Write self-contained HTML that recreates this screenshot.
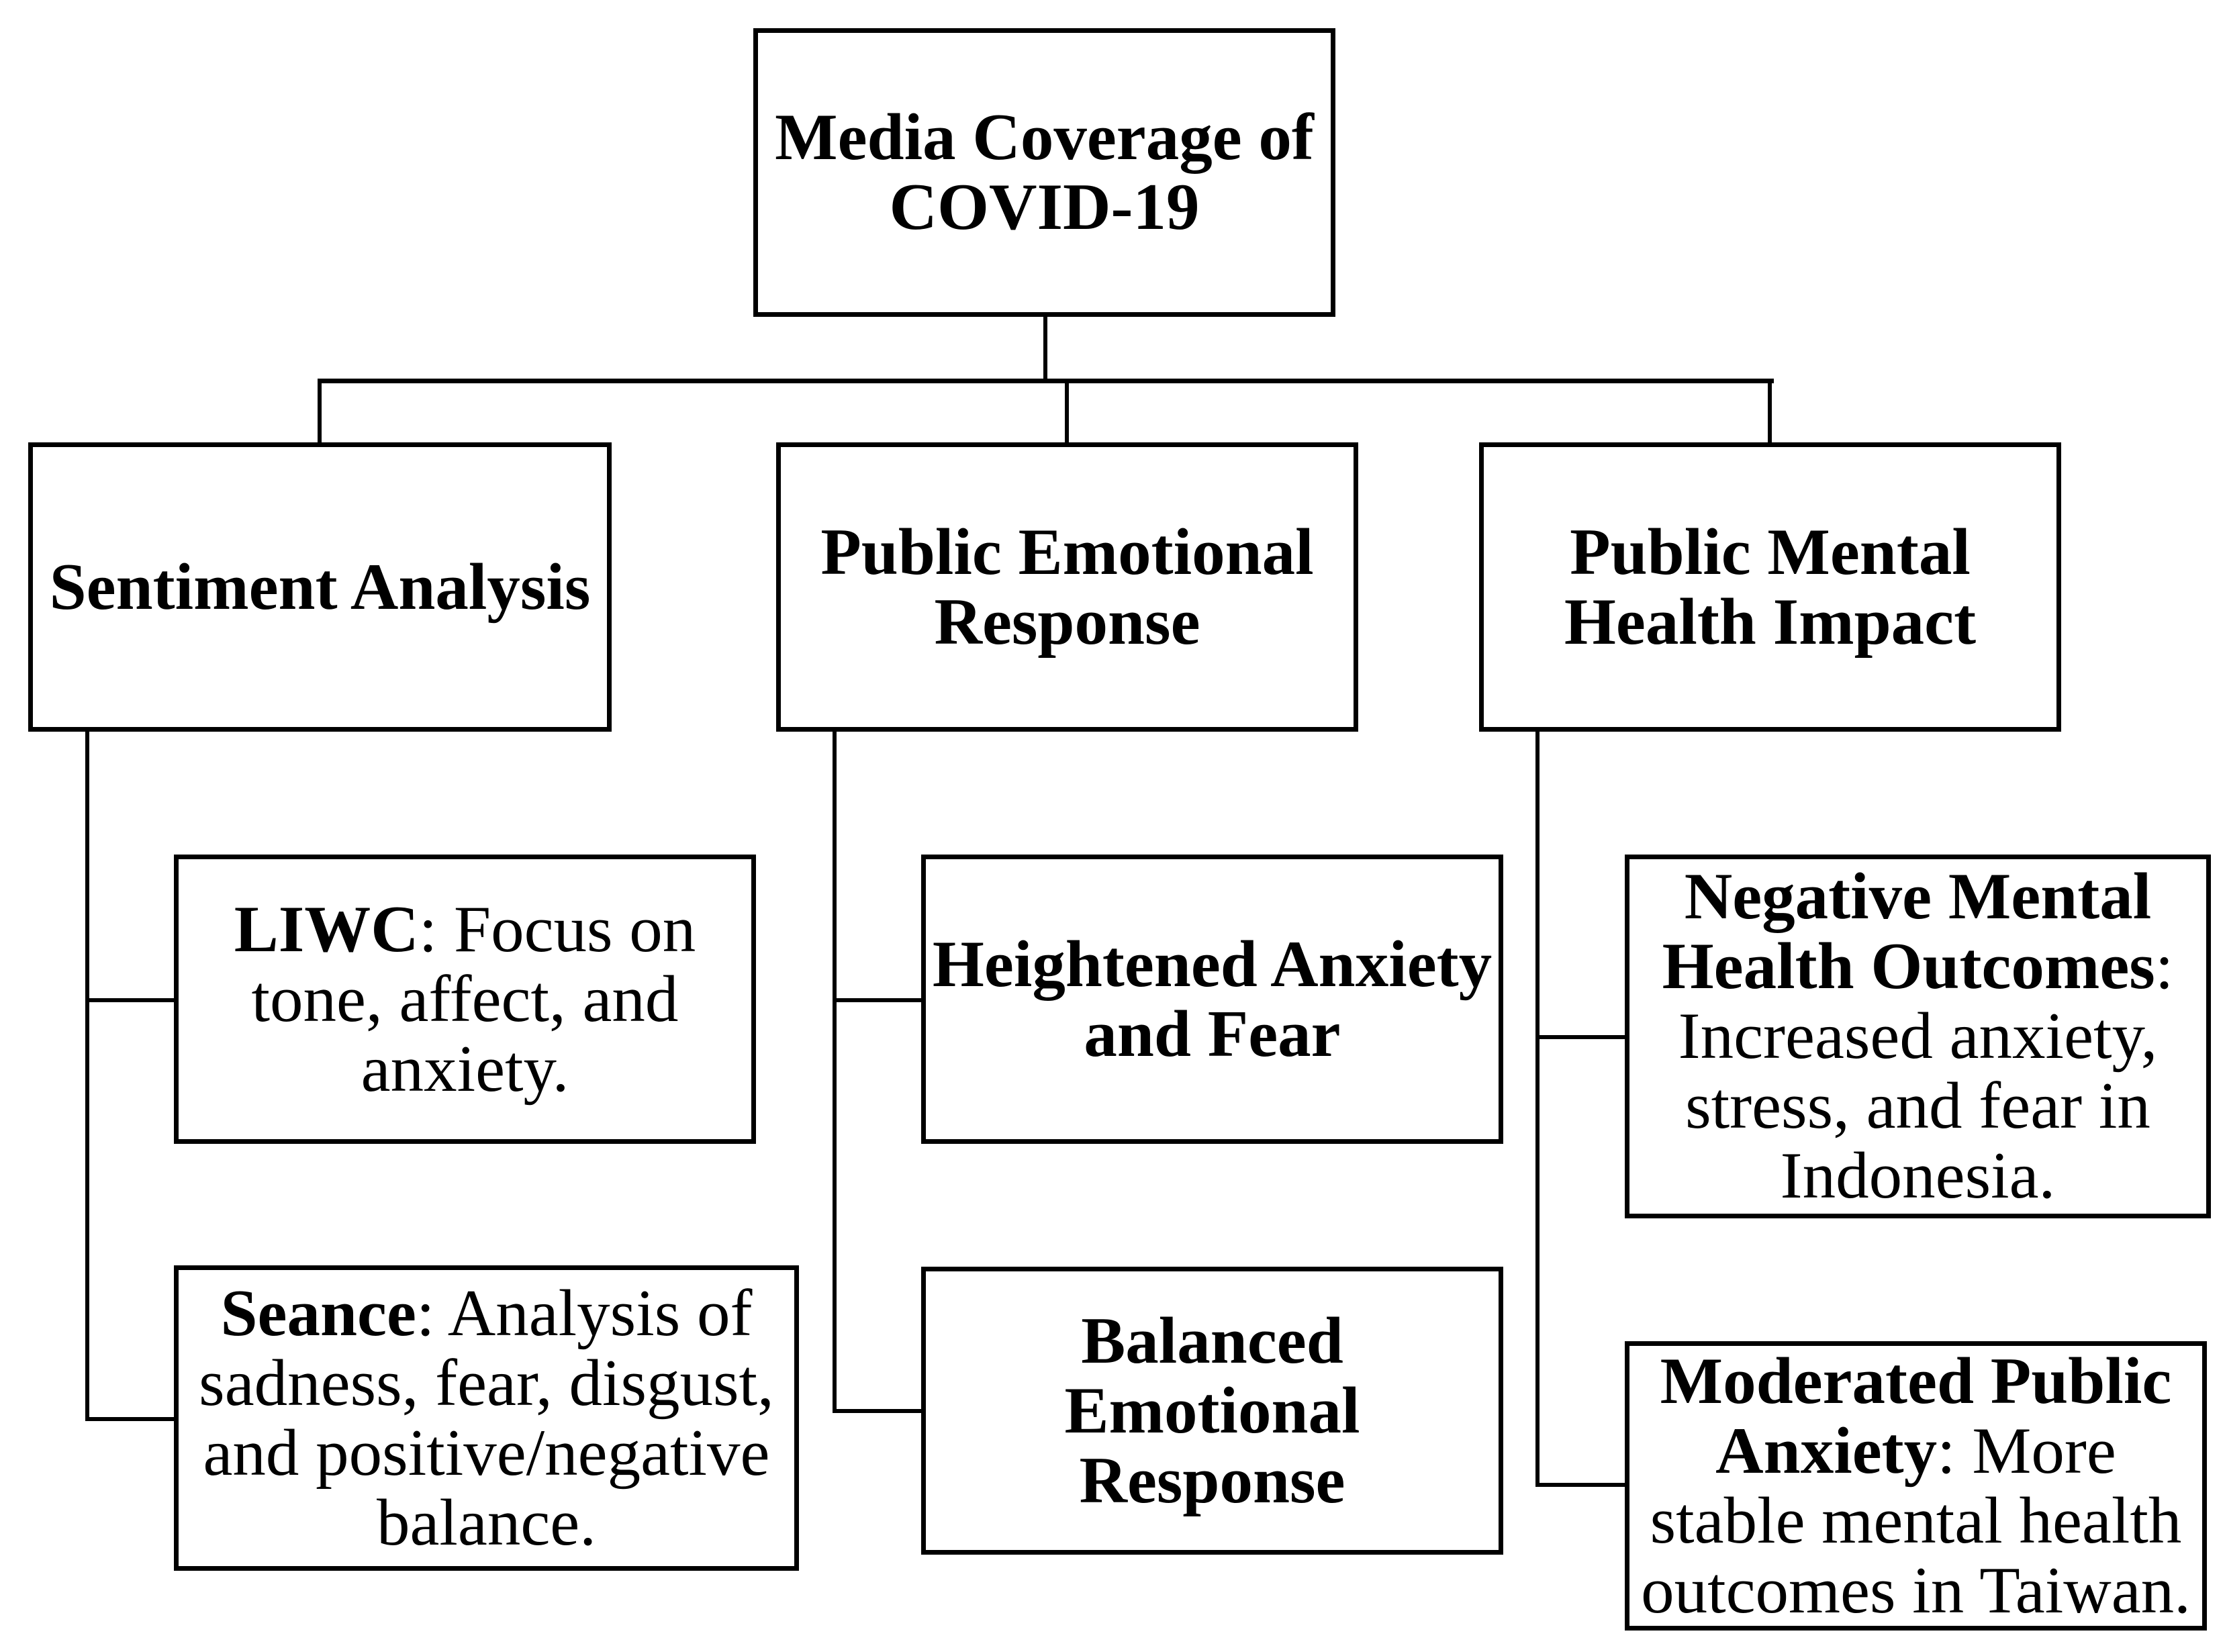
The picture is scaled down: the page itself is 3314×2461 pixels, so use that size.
<!DOCTYPE html>
<html><head><meta charset="utf-8"><style>
html,body{margin:0;padding:0;background:#fff;}
body{width:3314px;height:2461px;position:relative;overflow:hidden;font-family:"Liberation Serif",serif;}
.b{position:absolute;box-sizing:border-box;border:7px solid #000;display:flex;align-items:center;justify-content:center;text-align:center;font-size:99px;line-height:104px;color:#000;white-space:nowrap;}
.t{font-weight:bold;}
.l{position:absolute;background:#000;}
</style></head><body>
<div class="b t" style="left:1122px;top:42px;width:867px;height:430px;">Media Coverage of<br>COVID-19</div>
<div class="l" style="left:1554px;top:472px;width:6px;height:98px;"></div>
<div class="l" style="left:473px;top:564px;width:2169px;height:7px;"></div>
<div class="l" style="left:473px;top:564px;width:6px;height:96px;"></div>
<div class="l" style="left:1586px;top:564px;width:6px;height:96px;"></div>
<div class="l" style="left:2633px;top:564px;width:6px;height:96px;"></div>

<div class="b t" style="left:42px;top:659px;width:869px;height:431px;">Sentiment Analysis</div>
<div class="b t" style="left:1156px;top:659px;width:867px;height:431px;">Public Emotional<br>Response</div>
<div class="b t" style="left:2203px;top:659px;width:867px;height:431px;">Public Mental<br>Health Impact</div>

<div class="l" style="left:127px;top:1090px;width:6px;height:1027px;"></div>
<div class="l" style="left:127px;top:1487px;width:135px;height:6px;"></div>
<div class="l" style="left:127px;top:2111px;width:135px;height:6px;"></div>
<div class="l" style="left:1240px;top:1090px;width:6px;height:1015px;"></div>
<div class="l" style="left:1240px;top:1487px;width:135px;height:6px;"></div>
<div class="l" style="left:1240px;top:2099px;width:135px;height:6px;"></div>
<div class="l" style="left:2287px;top:1090px;width:6px;height:1125px;"></div>
<div class="l" style="left:2287px;top:1542px;width:136px;height:6px;"></div>
<div class="l" style="left:2287px;top:2209px;width:136px;height:6px;"></div>

<div class="b" style="left:259px;top:1273px;width:867px;height:431px;"><div><b>LIWC</b>: Focus on<br>tone, affect, and<br>anxiety.</div></div>
<div class="b" style="left:259px;top:1885px;width:931px;height:455px;"><div><b>Seance</b>: Analysis of<br>sadness, fear, disgust,<br>and positive/negative<br>balance.</div></div>
<div class="b t" style="left:1372px;top:1273px;width:867px;height:431px;">Heightened Anxiety<br>and Fear</div>
<div class="b t" style="left:1372px;top:1887px;width:867px;height:429px;">Balanced<br>Emotional<br>Response</div>
<div class="b" style="left:2420px;top:1273px;width:873px;height:542px;"><div><b>Negative Mental<br>Health Outcomes</b>:<br>Increased anxiety,<br>stress, and fear in<br>Indonesia.</div></div>
<div class="b" style="left:2420px;top:1998px;width:867px;height:431px;"><div><b>Moderated Public<br>Anxiety</b>: More<br>stable mental health<br>outcomes in Taiwan.</div></div>
</body></html>
